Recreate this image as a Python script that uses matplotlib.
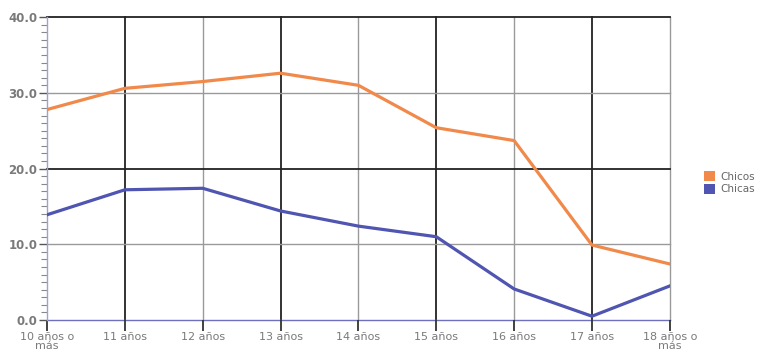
import matplotlib.pyplot as plt
from matplotlib.patches import Patch

edades = ['10 años o\nmás', '11 años', '12 años', '13 años', '14 años',
          '15 años', '16 años', '17 años', '18 años o\nmás']
chicos = [27.8, 30.6, 31.5, 32.6, 31.0, 25.4, 23.7, 9.9, 7.4]
chicas = [13.9, 17.2, 17.4, 14.4, 12.4, 11.0, 4.1, 0.5, 4.5]

naranja = '#f0894a'
azul = '#4f55b0'
gris_txt = '#7a7a7a'

fig = plt.figure(figsize=(7.67, 3.55), dpi=100)
ax = fig.add_axes([0.0613, 0.0986, 0.812, 0.853])

x = list(range(len(edades)))

# cuadrícula: líneas negras y grises alternas
for i in x:
    if i == 0:
        continue
    color = '#222222' if i % 2 == 1 else '#9a9a9a'
    lw = 1.3 if i % 2 == 1 else 1.0
    ax.axvline(i, color=color, lw=lw, zorder=1, clip_on=False)
for v, c in [(10, '#9a9a9a'), (20, '#222222'), (30, '#9a9a9a'), (40, '#222222')]:
    ax.axhline(v, color=c, lw=1.3 if c == '#222222' else 1.0, zorder=1,
               clip_on=False)
ax.axhline(0, color='#6f6fc0', lw=1.0, zorder=1, clip_on=False)

ax.plot(x, chicos, color=naranja, lw=2.3, zorder=3)
ax.plot(x, chicas, color=azul, lw=2.3, zorder=3)

ax.set_xlim(0, len(edades) - 1)
ax.set_ylim(0, 40)
for s in ['top', 'right', 'bottom']:
    ax.spines[s].set_visible(False)
ax.spines['left'].set_color('#a0a0d8')
ax.spines['left'].set_linewidth(1.0)

ax.set_xticks(x)
ax.set_xticklabels(edades, fontsize=8, color=gris_txt, linespacing=0.85)
ax.tick_params(axis='x', length=8, width=1.3, color='#333333', pad=1)
ax.set_yticks([0, 10, 20, 30, 40])
ax.set_yticklabels(['0.0', '10.0', '20.0', '30.0', '40.0'], fontsize=8.5,
                   color=gris_txt, fontweight='bold')
ax.tick_params(axis='y', length=6, width=1.0, color='#555555', pad=1)
ax.set_yticks(range(0, 41), minor=True)
ax.tick_params(axis='y', which='minor', length=4, width=0.8, color='#888888')

handles = [Patch(facecolor=naranja, edgecolor='none', label='Chicos'),
           Patch(facecolor=azul, edgecolor='none', label='Chicas')]
fig.legend(handles=handles, loc='center left', bbox_to_anchor=(0.905, 0.485),
           frameon=False, fontsize=7.5, handlelength=1.1, handleheight=1.1,
           handletextpad=0.5, labelspacing=0.2, labelcolor='#666666')

fig.savefig('out.png', dpi=100)
